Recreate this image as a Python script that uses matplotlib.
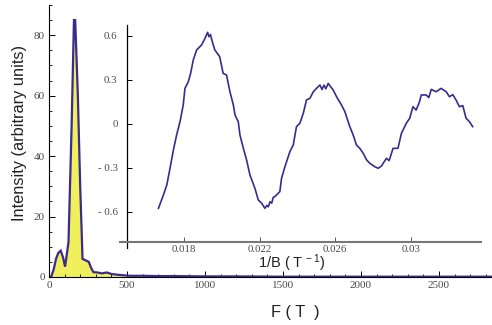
import matplotlib
matplotlib.use("Agg")
import matplotlib.pyplot as plt
from matplotlib.ticker import MultipleLocator, FixedLocator, FixedFormatter

# ---- main spectrum (FFT) ----
freq = [0, 15, 30, 45, 60, 75, 90, 103, 125, 145, 160, 168, 185, 200, 215, 235,
        255, 270, 285, 310, 340, 370, 400, 430, 470, 520, 600, 700, 800, 1000,
        1200, 1500, 2000, 2500, 2840]
intensity = [0, 0.2, 2.5, 6, 8, 8.7, 6.5, 3.4, 11.5, 50, 85, 85, 60, 30, 6, 5.5,
             5, 3, 1.6, 1.5, 1.2, 1.5, 1.0, 0.8, 0.6, 0.4, 0.4, 0.3, 0.3, 0.2,
             0.2, 0.1, 0.1, 0.1, 0.1]

main_xticks = [0, 500, 1000, 1500, 2000, 2500]
main_yticks = [0, 20, 40, 60, 80]

# ---- inset oscillation vs 1/B ----
invB = [0.01665, 0.01691, 0.01709, 0.01726, 0.01744, 0.01761, 0.01779, 0.01796,
        0.01805, 0.01823, 0.01835, 0.01849, 0.01867, 0.01893, 0.01911, 0.01925,
        0.01932, 0.01940, 0.01950, 0.01963, 0.01989, 0.02007, 0.02025, 0.02043,
        0.02061, 0.02070, 0.02087, 0.02096, 0.02114, 0.02131, 0.02149, 0.02175,
        0.02193, 0.02211, 0.02228, 0.02238, 0.02246, 0.02255, 0.02264, 0.02272,
        0.02281, 0.02307, 0.02316, 0.02334, 0.02360, 0.02378, 0.02395, 0.02413,
        0.02431, 0.02448, 0.02466, 0.02484, 0.02501, 0.02519, 0.02530, 0.02540,
        0.02550, 0.02563, 0.02575, 0.02589, 0.02607, 0.02633, 0.02651, 0.02677,
        0.02695, 0.02712, 0.02730, 0.02748, 0.02766, 0.02783, 0.02809, 0.02827,
        0.02845, 0.02860, 0.02871, 0.02885, 0.02906, 0.02932, 0.02950, 0.02976,
        0.02994, 0.03011, 0.03028, 0.03046, 0.03055, 0.03081, 0.03095, 0.03108,
        0.03134, 0.03160, 0.03187, 0.03204, 0.03222, 0.03239, 0.03257, 0.03275,
        0.03292, 0.03310, 0.03327]
osc = [-0.575, -0.484, -0.416, -0.302, -0.177, -0.075, 0.016, 0.130,
       0.243, 0.289, 0.345, 0.436, 0.505, 0.539, 0.584, 0.625,
       0.595, 0.610, 0.560, 0.505, 0.459, 0.345, 0.334, 0.220,
       0.130, 0.061, 0.016, -0.075, -0.166, -0.245, -0.348, -0.438,
       -0.518, -0.541, -0.575, -0.555, -0.565, -0.530, -0.540, -0.500,
       -0.495, -0.461, -0.370, -0.291, -0.189, -0.143, -0.018, 0.005,
       0.073, 0.164, 0.175, 0.220, 0.243, 0.266, 0.235, 0.265,
       0.240, 0.277, 0.255, 0.232, 0.186, 0.130, 0.084, -0.018,
       -0.075, -0.143, -0.166, -0.200, -0.245, -0.268, -0.291, -0.302,
       -0.286, -0.255, -0.234, -0.250, -0.166, -0.166, -0.064, 0.005,
       0.039, 0.118, 0.095, 0.152, 0.198, 0.198, 0.180, 0.236,
       0.220, 0.243, 0.220, 0.186, 0.200, 0.164, 0.118, 0.125,
       0.039, 0.016, -0.018]

inset_xticks = [0.018, 0.022, 0.026, 0.030]
inset_xlabels = ["0.018", "0.022", "0.026", "0.03"]
inset_yticks = [0.6, 0.3, 0.0, -0.3, -0.6]
inset_ylabels = ["0.6", "0.3", "0", "- 0.3", "- 0.6"]

LINE = "#3c2a8c"
FILL = "#f0ef5c"
TICKC = "#4a4a4a"

plt.rcParams["mathtext.fontset"] = "custom"
plt.rcParams["mathtext.rm"] = "Liberation Sans"
plt.rcParams["mathtext.default"] = "rm"

W, H = 492, 325
fig = plt.figure(figsize=(W / 100, H / 100), dpi=100)

# main axes
ax = fig.add_axes([49 / W, (H - 277) / H, 443 / W, 272 / H])
ax.fill_between(freq, intensity, 0, color=FILL, lw=0)
ax.plot(freq, intensity, color=LINE, lw=1.6, solid_joinstyle="miter")
ax.set_xlim(0, 2840)
ax.set_ylim(0, 90)
for s in ("top", "right"):
    ax.spines[s].set_visible(False)
for s in ("left", "bottom"):
    ax.spines[s].set_linewidth(0.8)
ax.xaxis.set_major_locator(FixedLocator(main_xticks))
ax.yaxis.set_major_locator(FixedLocator(main_yticks))
ax.xaxis.set_minor_locator(MultipleLocator(100))
ax.yaxis.set_minor_locator(MultipleLocator(5))
ax.tick_params(which="both", direction="in", colors="black", labelcolor=TICKC)
ax.tick_params(which="major", length=4, width=0.7, labelsize=8, pad=3)
ax.tick_params(which="minor", length=2, width=0.6)
for lab in ax.get_xticklabels() + ax.get_yticklabels():
    lab.set_family("Liberation Serif")

fig.text(20 / W, (H - 133) / H, "Intensity (arbitrary units)", rotation=90,
         ha="center", va="center", fontsize=11.8, family="Liberation Sans",
         color="#222222")
fig.text(295 / W, (H - 312) / H, "F ( T  )", ha="center", va="center",
         fontsize=11.8, family="Liberation Sans", color="#222222")

# inset axes
x0p, x1p = 0.018 - 64 * 5.29e-5, 0.018 + 297 * 5.29e-5
ins = fig.add_axes([120 / W, (H - 248) / H, 361 / W, 223 / H])
ins.patch.set_alpha(0)
ins.plot(invB, osc, color=LINE, lw=1.2)
ins.set_xlim(x0p, x1p)
ins.set_ylim(-0.8455, 0.675)
for s in ("top", "right"):
    ins.spines[s].set_visible(False)
ins.spines["left"].set_position(("data", 0.015))
ins.spines["bottom"].set_position(("data", -0.8045))
ins.spines["left"].set_linewidth(0.9)
ins.spines["bottom"].set_linewidth(1.5)
ins.spines["bottom"].set_color("#777777")
ins.xaxis.set_major_locator(FixedLocator(inset_xticks))
ins.xaxis.set_major_formatter(FixedFormatter(inset_xlabels))
ins.yaxis.set_major_locator(FixedLocator(inset_yticks))
ins.yaxis.set_major_formatter(FixedFormatter(inset_ylabels))
ins.tick_params(which="major", direction="in", length=3.5, width=0.7,
                labelsize=7.8, labelcolor=TICKC)
ins.tick_params(axis="x", colors="#555555", labelcolor=TICKC, pad=2)
ins.tick_params(axis="y", pad=7)
for lab in ins.get_xticklabels() + ins.get_yticklabels():
    lab.set_family("Liberation Serif")

fig.text(292 / W, (H - 263) / H, "1/B ( T$^{\\,-1}$)", ha="center",
         va="center", fontsize=10.5, family="Liberation Sans", color="#222222")

fig.savefig("out.png", dpi=100)
